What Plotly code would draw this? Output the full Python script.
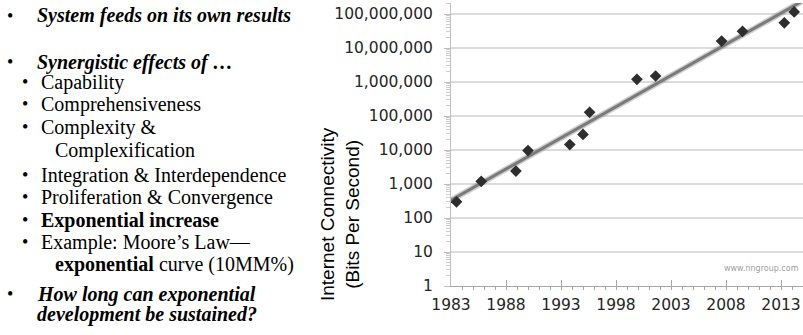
import numpy as np
import plotly.graph_objects as go

# ---- data ----
years = [1983.5, 1985.75, 1988.9, 1990.0, 1993.8, 1995.0, 1995.6,
         1999.9, 2001.6, 2007.6, 2009.5, 2013.3, 2014.2]
bps = [300, 1200, 2400, 9600, 14400, 28800, 128000,
       1200000, 1500000, 16000000, 31000000, 55000000, 115000000]
y_tickvals = [1, 10, 100, 1000, 10000, 100000, 1000000, 10000000, 100000000]
y_ticktext = ["1", "10", "100", "1,000", "10,000", "100,000", "1,000,000",
              "10,000,000", "100,000,000"]
x_tickvals = [1983, 1988, 1993, 1998, 2003, 2008, 2013]
x_ticktext = ["1983", "1988", "1993", "1998", "2003", "2008", "2013"]

bullet_text = [
    "<b><i>System feeds on its own results</i></b>",
    "<b><i>Synergistic effects of …</i></b>",
    "Capability",
    "Comprehensiveness",
    "Complexity &amp;",
    "Complexification",
    "Integration &amp; Interdependence",
    "Proliferation &amp; Convergence",
    "<b>Exponential increase</b>",
    "Example: Moore’s Law—",
    "<b>exponential</b> curve (10MM%)",
    "<b><i>How long can exponential</i></b>",
    "<b><i>development be sustained?</i></b>",
]
# ---- trend (exponential least-squares fit, like a spreadsheet trendline) ----
coef = np.polyfit(np.array(years), np.log10(np.array(bps)), 1)
trend_x = np.array([1983.0, 2015.2])
trend_y = 10 ** np.polyval(coef, trend_x)

W, H = 803, 335
ML, MT, MB = 451, 3, 49
PH = H - MT - MB


def px(x):
    return x / W


def py(y):
    return (H - MB - y) / PH


fig = go.Figure()
fig.add_trace(go.Scatter(x=trend_x, y=trend_y, mode="lines",
                         line=dict(color="rgba(120,120,120,0.35)", width=6),
                         hoverinfo="skip", showlegend=False))
fig.add_trace(go.Scatter(x=trend_x, y=trend_y, mode="lines",
                         line=dict(color="#7a7a7a", width=3),
                         hoverinfo="skip", showlegend=False))
fig.add_trace(go.Scatter(x=years, y=bps, mode="markers",
                         marker=dict(symbol="diamond", size=9, color="#2e2e2e"),
                         showlegend=False))

tick_font = dict(family="DejaVu Sans", size=15.5, color="#262626")
fig.update_xaxes(domain=[ML / W, 1], range=[1983, 1983 + (W - ML) / 11.0],
                 tickmode="array", tickvals=x_tickvals, ticktext=x_ticktext,
                 showgrid=False, zeroline=False, showline=True,
                 linecolor="#a6a6a6", linewidth=1, automargin=False,
                 ticks="inside", ticklen=6, tickcolor="#a6a6a6",
                 minor=dict(dtick=1, tick0=1983, ticks="outside", ticklen=3,
                            tickcolor="#a6a6a6", showgrid=False),
                 tickfont=tick_font, ticklabelstandoff=4)
fig.update_yaxes(type="log", range=[0, (H - MB - MT) / 34.0],
                 tickmode="array", tickvals=y_tickvals, ticktext=y_ticktext,
                 showgrid=True, gridcolor="#dcdcdc", gridwidth=1.5,
                 zeroline=False, showline=True, linecolor="#bfbfbf", linewidth=1,
                 automargin=False,
                 ticks="outside", ticklen=6, tickcolor="#bfbfbf",
                 minor=dict(dtick="D1", ticks="outside", ticklen=4,
                            tickcolor="#cfcfcf", showgrid=False),
                 tickfont=tick_font, ticklabelstandoff=8)

# left text
serif = dict(family="Liberation Serif, Times New Roman, serif", size=20, color="black")
rows = [
    # (text index, bullet x, text x, y, bullet?)
    (0, 10, 35, 16, True),
    (1, 10, 35, 62, True),
    (2, 25, 39, 82, True),
    (3, 25, 39, 104, True),
    (4, 25, 39, 127, True),
    (5, None, 53, 150, False),
    (6, 25, 39, 175, True),
    (7, 25, 39, 197, True),
    (8, 25, 39, 220, True),
    (9, 25, 39, 242, True),
    (10, None, 53, 264, False),
    (11, 10, 35, 294, True),
    (12, None, 35, 314, False),
]
for idx, bx, tx, yy, has_b in rows:
    fig.add_annotation(text=bullet_text[idx], x=px(tx), y=py(yy), xref="paper",
                       yref="paper", xanchor="left", yanchor="middle",
                       showarrow=False, font=serif)
    if has_b:
        fig.add_annotation(text="•", x=px(bx), y=py(yy), xref="paper",
                           yref="paper", xanchor="center", yanchor="middle",
                           showarrow=False,
                           font=dict(family="Liberation Serif", size=18, color="black"))

# axis title
fig.add_annotation(text="Internet Connectivity<br>(Bits Per Second)",
                   x=px(340), y=py(214), xref="paper", yref="paper",
                   xanchor="center", yanchor="middle", textangle=-90,
                   showarrow=False,
                   font=dict(family="Liberation Sans, Arial, sans-serif",
                             size=19, color="black"))
# watermark
fig.add_annotation(text="www.nngroup.com", x=px(761), y=py(268), xref="paper",
                   yref="paper", xanchor="center", yanchor="middle",
                   showarrow=False,
                   font=dict(family="DejaVu Sans", size=8, color="#a0a0a0"))

fig.update_layout(width=W, height=H, margin=dict(l=0, r=0, t=MT, b=MB),
                  plot_bgcolor="white", paper_bgcolor="white", showlegend=False)
fig.write_html("out.html", config={"displayModeBar": False},
               post_script="document.body.style.margin='0';"
                           "document.body.style.overflow='hidden';")
